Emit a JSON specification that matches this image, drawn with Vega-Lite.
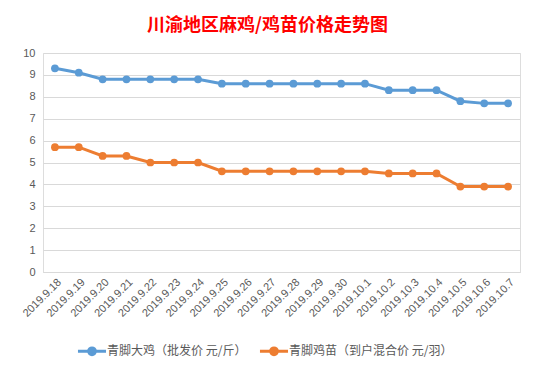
{
  "$schema": "https://vega.github.io/schema/vega-lite/v6.json",
  "autosize": {"type": "none"},
  "width": 477,
  "height": 219,
  "padding": {"left": 43, "top": 53, "right": 19, "bottom": 97},
  "background": "white",
  "title": {
    "text": "川渝地区麻鸡/鸡苗价格走势图",
    "color": "#FF0000",
    "font": "Noto Sans CJK SC",
    "fontSize": 18,
    "fontWeight": "bold",
    "offset": 12,
    "dx": -14
  },
  "data": {
    "values": [
      {"date": "2019.9.18", "series": "青脚大鸡（批发价 元/斤）", "price": 9.3},
      {"date": "2019.9.19", "series": "青脚大鸡（批发价 元/斤）", "price": 9.1},
      {"date": "2019.9.20", "series": "青脚大鸡（批发价 元/斤）", "price": 8.8},
      {"date": "2019.9.21", "series": "青脚大鸡（批发价 元/斤）", "price": 8.8},
      {"date": "2019.9.22", "series": "青脚大鸡（批发价 元/斤）", "price": 8.8},
      {"date": "2019.9.23", "series": "青脚大鸡（批发价 元/斤）", "price": 8.8},
      {"date": "2019.9.24", "series": "青脚大鸡（批发价 元/斤）", "price": 8.8},
      {"date": "2019.9.25", "series": "青脚大鸡（批发价 元/斤）", "price": 8.6},
      {"date": "2019.9.26", "series": "青脚大鸡（批发价 元/斤）", "price": 8.6},
      {"date": "2019.9.27", "series": "青脚大鸡（批发价 元/斤）", "price": 8.6},
      {"date": "2019.9.28", "series": "青脚大鸡（批发价 元/斤）", "price": 8.6},
      {"date": "2019.9.29", "series": "青脚大鸡（批发价 元/斤）", "price": 8.6},
      {"date": "2019.9.30", "series": "青脚大鸡（批发价 元/斤）", "price": 8.6},
      {"date": "2019.10.1", "series": "青脚大鸡（批发价 元/斤）", "price": 8.6},
      {"date": "2019.10.2", "series": "青脚大鸡（批发价 元/斤）", "price": 8.3},
      {"date": "2019.10.3", "series": "青脚大鸡（批发价 元/斤）", "price": 8.3},
      {"date": "2019.10.4", "series": "青脚大鸡（批发价 元/斤）", "price": 8.3},
      {"date": "2019.10.5", "series": "青脚大鸡（批发价 元/斤）", "price": 7.8},
      {"date": "2019.10.6", "series": "青脚大鸡（批发价 元/斤）", "price": 7.7},
      {"date": "2019.10.7", "series": "青脚大鸡（批发价 元/斤）", "price": 7.7},
      {"date": "2019.9.18", "series": "青脚鸡苗（到户混合价 元/羽）", "price": 5.7},
      {"date": "2019.9.19", "series": "青脚鸡苗（到户混合价 元/羽）", "price": 5.7},
      {"date": "2019.9.20", "series": "青脚鸡苗（到户混合价 元/羽）", "price": 5.3},
      {"date": "2019.9.21", "series": "青脚鸡苗（到户混合价 元/羽）", "price": 5.3},
      {"date": "2019.9.22", "series": "青脚鸡苗（到户混合价 元/羽）", "price": 5.0},
      {"date": "2019.9.23", "series": "青脚鸡苗（到户混合价 元/羽）", "price": 5.0},
      {"date": "2019.9.24", "series": "青脚鸡苗（到户混合价 元/羽）", "price": 5.0},
      {"date": "2019.9.25", "series": "青脚鸡苗（到户混合价 元/羽）", "price": 4.6},
      {"date": "2019.9.26", "series": "青脚鸡苗（到户混合价 元/羽）", "price": 4.6},
      {"date": "2019.9.27", "series": "青脚鸡苗（到户混合价 元/羽）", "price": 4.6},
      {"date": "2019.9.28", "series": "青脚鸡苗（到户混合价 元/羽）", "price": 4.6},
      {"date": "2019.9.29", "series": "青脚鸡苗（到户混合价 元/羽）", "price": 4.6},
      {"date": "2019.9.30", "series": "青脚鸡苗（到户混合价 元/羽）", "price": 4.6},
      {"date": "2019.10.1", "series": "青脚鸡苗（到户混合价 元/羽）", "price": 4.6},
      {"date": "2019.10.2", "series": "青脚鸡苗（到户混合价 元/羽）", "price": 4.5},
      {"date": "2019.10.3", "series": "青脚鸡苗（到户混合价 元/羽）", "price": 4.5},
      {"date": "2019.10.4", "series": "青脚鸡苗（到户混合价 元/羽）", "price": 4.5},
      {"date": "2019.10.5", "series": "青脚鸡苗（到户混合价 元/羽）", "price": 3.9},
      {"date": "2019.10.6", "series": "青脚鸡苗（到户混合价 元/羽）", "price": 3.9},
      {"date": "2019.10.7", "series": "青脚鸡苗（到户混合价 元/羽）", "price": 3.9}
    ]
  },
  "mark": {"type": "line", "strokeWidth": 3, "point": {"filled": true, "size": 60}},
  "encoding": {
    "x": {
      "field": "date",
      "type": "ordinal",
      "sort": null,
      "title": null,
      "axis": {
        "labelAngle": -45,
        "labelColor": "#595959",
        "labelFontSize": 11,
        "labelFont": "Liberation Sans",
        "ticks": false,
        "domainColor": "#d9d9d9",
        "labelPadding": 4
      }
    },
    "y": {
      "field": "price",
      "type": "quantitative",
      "title": null,
      "scale": {"domain": [0, 10], "nice": false},
      "axis": {
        "values": [0, 1, 2, 3, 4, 5, 6, 7, 8, 9, 10],
        "domain": false,
        "ticks": false,
        "gridColor": "#d9d9d9",
        "labelColor": "#595959",
        "labelFontSize": 11,
        "labelFont": "Liberation Sans",
        "labelPadding": 8
      }
    },
    "color": {
      "field": "series",
      "type": "nominal",
      "scale": {"range": ["#5B9BD5", "#ED7D31"]},
      "legend": {
        "title": null,
        "orient": "none",
        "legendX": 38,
        "legendY": 287,
        "direction": "horizontal",
        "labelFont": "Noto Sans CJK SC",
        "labelFontSize": 12,
        "labelColor": "#595959",
        "labelLimit": 300,
        "labelOffset": 4,
        "symbolType": "M-1.5,0H1.5M0.36,0A0.36,0.36,0,1,1,-0.36,0A0.36,0.36,0,1,1,0.36,0Z",
        "symbolSize": 350,
        "symbolStrokeWidth": 3,
        "columnPadding": 6
      }
    }
  }
}
